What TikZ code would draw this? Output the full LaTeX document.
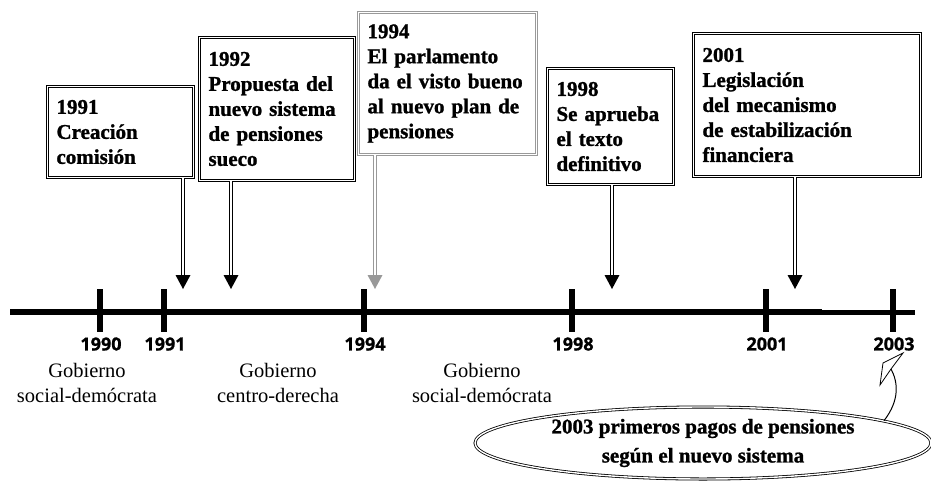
\documentclass[tikz,border=0pt]{standalone}
\usepackage{fontspec}
\setmainfont{Liberation Serif}[BoldFeatures={FakeBold=1.2}]
\newfontfamily\yearfont{Open Sans}[BoldFeatures={FakeBold=1}]
\usetikzlibrary{shapes.geometric}
\newcommand{\evfont}{\fontsize{21}{25}\selectfont\bfseries}

\begin{document}
\begin{tikzpicture}[x=1pt, y=-1pt,
  evbox/.style={draw, double, double distance=1.5pt, line width=1pt, inner xsep=9pt,
    align=left, anchor=north west, font=\evfont},
  shaft/.style={double, double distance=2pt, line width=1pt},
  tick/.style={line width=6pt},
  yearlbl/.style={font=\yearfont\bfseries\fontsize{18}{20}\selectfont},
  govlbl/.style={align=center, font=\fontsize{20.5}{25}\selectfont}]
  \useasboundingbox (0,0) rectangle (931,482);

  % time axis
  \coordinate (a0) at (10,312);
  \coordinate (a1) at (822,312);
  \coordinate (a2) at (915,312);
  \draw[line width=6pt] (a0) -- (a1);
  \draw[line width=5pt] (a1) -- (a2);
  \foreach \x/\yr in {100/1990, 164/1991, 364/1994, 572/1998, 766/2001, 893/2003} {
    \draw[tick] (\x,289) -- (\x,332);
    \node[yearlbl] (y\yr) at (\x+1,344) {\yr};
  }

  \node[govlbl] (g1) at (87,383) {Gobierno\\social-demócrata};
  \node[govlbl] (g2) at (278,383) {Gobierno\\centro-derecha};
  \node[govlbl] (g3) at (482,383) {Gobierno\\social-demócrata};

  % events
  \node[evbox, text width=128pt, minimum height=91pt] (b1991) at (47,86) {1991\\Creación\\comisión};
  \node[evbox, text width=137pt, minimum height=143pt] (b1992) at (199,37) {1992\\Propuesta del\\nuevo sistema\\de pensiones\\sueco};
  \node[evbox, draw=black!40, text width=160pt, minimum height=142pt] (b1994) at (358,12) {1994\\El parlamento\\da el visto bueno\\al nuevo plan de\\pensiones};
  \node[evbox, text width=108pt, minimum height=116pt] (b1998) at (547,68) {1998\\Se aprueba\\el texto\\definitivo};
  \node[evbox, text width=209pt, minimum height=143pt] (b2001) at (693,33) {2001\\Legislación\\del mecanismo\\de estabilización\\financiera};

  \foreach \b/\x in {1991/183, 1992/231, 1998/612, 2001/795} {
    \coordinate (t\b) at (\x,289);
    \draw[shaft] (b\b.south -| t\b) -- ([yshift=12pt]t\b);
    \fill (t\b) -- ++(-7.5,-14) -- ++(15,0) -- cycle;
  }
  \coordinate (t1994) at (375,289);
  \draw[shaft, draw=black!40] (b1994.south -| t1994) -- ([yshift=12pt]t1994);
  \fill[black!40] (t1994) -- ++(-7.5,-14) -- ++(15,0) -- cycle;

  % callout
  \node[ellipse, draw, double, double distance=1.4pt, line width=0.8pt, minimum width=456pt,
    minimum height=72pt, inner sep=0pt, align=center,
    font=\fontsize{21}{29}\selectfont\bfseries] (note) at (703,443)
    {2003 primeros pagos de pensiones\\según el nuevo sistema};
  \coordinate (kn) at (891,369);
  \draw[fill=white, line width=0.8pt] (880,385) -- (883,363) -- (903,353) -- (kn) -- cycle;
  \draw[line width=1pt] (note.7.5) .. controls (900,400) and (898,382) .. (kn);
\end{tikzpicture}
\end{document}
